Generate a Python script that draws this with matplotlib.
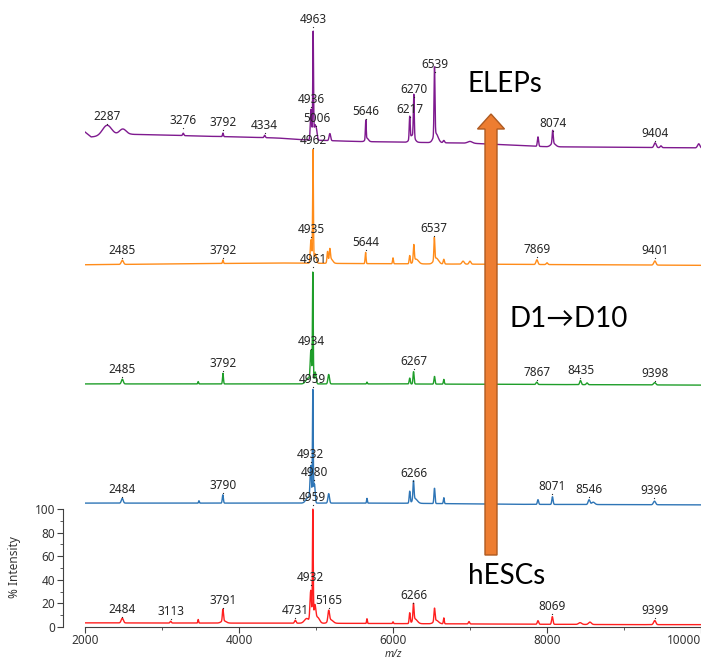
import numpy as np
import matplotlib.pyplot as plt
from matplotlib.patches import FancyArrow
from matplotlib.ticker import FixedLocator, MultipleLocator

# m/z axis of the spectra
mz_start, mz_stop, mz_step = 2000, 10000, 2.0

# vertical offset of each stacked trace (% intensity units)
trace_offsets = [0, 101.5, 203, 304.5, 406]
trace_colors = ['#ff1f1f', '#2e75b6', '#1f9e2a', '#ff8c1a', '#7f1a8f']

# baseline anchors (m/z, level) and peaks (m/z, height, sd)
red_base = [(2000, 3.5), (5000, 3.2), (7000, 2.6), (9000, 2.0), (10000, 2.0)]
red_peaks = [(2484, 4, 14), (3113, 1.5, 8), (3470, 3, 5), (3791, 10, 7), (3800, 2, 30),
             (4731, 2.5, 10), (4880, 4, 30), (4932, 27, 10), (4959, 96, 5), (4985, 14, 12),
             (5020, 5, 25), (5165, 9, 10), (5190, 3, 30), (5662, 4, 5), (6000, 1.5, 5),
             (6217, 9, 7), (6266, 14, 7), (6285, 4, 30), (6539, 11, 7), (6560, 3, 30),
             (6660, 5, 6), (6987, 2, 8), (7883, 3, 9), (8069, 6.5, 9), (8430, 1.5, 20),
             (8558, 2, 18), (9399, 3.5, 14)]
red_labels = [2484, 3113, 3791, 4731, 4932, 5165, 6266, 8069, 9399]
red_label_y = [8.5, 6.8, 16.1, 7.6, 35.6, 16.1, 20.3, 11.0, 7.6]

blue_base = [(2000, 3.5), (6000, 3.5), (7500, 2.5), (10000, 2.0)]
blue_peaks = [(2484, 4, 12), (3480, 2, 5), (3790, 7, 7), (4900, 5, 30), (4932, 29, 9),
              (4959, 96, 5), (4980, 16, 9), (5165, 8, 10), (5662, 4, 5), (6217, 10, 7),
              (6266, 16, 7), (6285, 4, 30), (6539, 13, 7), (6660, 5, 6), (7883, 4, 8),
              (8071, 6.5, 8), (8546, 4, 12), (8600, 2, 20), (9396, 3, 14)]
blue_labels = [2484, 3790, 4932, 4980, 4959, 6266, 8071, 8546, 9396]
blue_label_y = [8.7, 12.1, 38.3, 23.1, 1.9, 22.2, 11.2, 8.7, 7.8]

green_base = [(2000, 3.0), (6000, 3.0), (8000, 2.5), (10000, 2.0)]
green_peaks = [(2485, 4, 12), (3470, 2, 5), (3792, 9, 6), (4900, 5, 30), (4934, 26, 9),
               (4959, 95, 5), (4990, 10, 11), (5165, 8, 10), (5662, 1.5, 5), (6217, 5, 7),
               (6267, 10.5, 7), (6539, 6.5, 7), (6660, 4, 6), (7867, 2, 10), (8435, 3.5, 10),
               (8520, 1.5, 10), (9398, 2, 14)]
green_labels = [2485, 3792, 4934, 4959, 6267, 7867, 8435, 9398]
green_label_y = [8.9, 13.9, 32.6, 0.4, 15.6, 6.3, 8.0, 5.5]

orange_base = [(2000, 2.5), (4500, 4.0), (5500, 3.5), (7000, 3.0), (10000, 2.0)]
orange_peaks = [(2485, 3.5, 14), (3792, 3, 6), (4935, 20, 9), (4961, 97, 5), (4990, 8, 14),
                (5150, 9, 7), (5180, 9, 7), (5190, 4, 25), (5644, 9.5, 6), (6000, 5, 6),
                (6217, 7, 7), (6270, 14, 7), (6300, 4, 30), (6537, 19, 6), (6560, 5, 30),
                (6660, 4, 8), (6910, 2.5, 15), (7000, 2.5, 12), (7869, 4, 12), (8000, 1.5, 10),
                (9401, 3.5, 14)]
orange_labels = [2485, 3792, 4935, 4961, 5644, 6537, 7869, 9401]
orange_label_y = [8.2, 8.2, 26.0, 0.6, 15.0, 26.9, 9.1, 8.2]

purple_base = [(2000, 13.5), (2080, 9.3), (2600, 11.5), (3000, 11.0), (3500, 10.0),
               (4000, 9.3), (4500, 8.4), (4800, 7.0), (5500, 5.5), (6000, 5.0),
               (7000, 4.0), (7500, 2.5), (8000, 1.0), (10000, 0.0)]
purple_peaks = [(2287, 9, 60), (2490, 5, 45), (3276, 2, 8), (3792, 3, 6), (4334, 2, 8),
                (4936, 26, 9), (4963, 92, 5), (4985, 12, 11), (5006, 8, 10), (5180, 6, 10),
                (5646, 16, 5), (5660, 3, 20), (6217, 19, 6), (6250, 6, 30), (6270, 36, 6),
                (6539, 58, 6), (6555, 8, 30), (6660, 2, 10), (7000, 1.5, 30), (7883, 8, 8),
                (8074, 11, 7), (8080, 3, 30), (9404, 4, 14), (9480, 1.5, 10), (9970, 3.5, 15)]
purple_labels = [2287, 3276, 3792, 4334, 4963, 4936, 5006, 4962, 5646, 6217, 6270, 6539,
                 8074, 9404]
purple_label_y = [20.3, 16.9, 15.2, 12.6, 102.5, 34.7, 18.6, -0.1, 24.5, 26.2, 43.2, 64.3,
                  14.3, 5.9]

traces = [
    (red_base, red_peaks, red_labels, red_label_y),
    (blue_base, blue_peaks, blue_labels, blue_label_y),
    (green_base, green_peaks, green_labels, green_label_y),
    (orange_base, orange_peaks, orange_labels, orange_label_y),
    (purple_base, purple_peaks, purple_labels, purple_label_y),
]

mz = np.arange(mz_start, mz_stop + mz_step, mz_step)


def spectrum(base, peaks):
    bx, by = zip(*base)
    y = np.interp(mz, bx, by)
    for c, h, s in peaks:
        y = y + h * np.exp(-0.5 * ((mz - c) / s) ** 2)
    return y


W, H = 701, 659
fig = plt.figure(figsize=(W / 100, H / 100), dpi=100)
ax = fig.add_axes([85 / W, 32 / H, 616 / W, 627 / H])
ax.set_xlim(2000, 10000)
ax.set_ylim(0, 627 / 1.18)

lab_font = dict(family='Noto Sans', fontsize=8.5, color='#262626')
for (base, peaks, labels, label_y), off, col in zip(traces, trace_offsets, trace_colors):
    ax.plot(mz, spectrum(base, peaks) + off, color=col, lw=1.0)
    for m, ly in zip(labels, label_y):
        ax.plot(m, off + ly, 'o', ms=0.9, mew=0, color='#262626')
        ax.annotate(str(m), (m, off + ly), xytext=(0, 3), textcoords='offset points',
                    ha='center', va='baseline', **lab_font)

for s in ['top', 'right']:
    ax.spines[s].set_visible(False)
ax.spines['left'].set_bounds(0, 100)
ax.spines['left'].set_position(('outward', 16))
for s in ['left', 'bottom']:
    ax.spines[s].set_color('#404040')
ax.set_yticks(range(0, 101, 20))
ax.yaxis.set_minor_locator(FixedLocator(range(10, 100, 20)))
ax.set_xticks(range(2000, 10001, 2000))
ax.xaxis.set_minor_locator(MultipleLocator(1000))
ax.tick_params(which='both', colors='#404040', labelcolor='#333333', labelsize=8.5,
               direction='out', pad=1.5)
ax.tick_params(axis='x', pad=1)
ax.tick_params(which='major', length=4)
ax.tick_params(which='minor', length=2.5)
for t in ax.get_yticklabels() + ax.get_xticklabels():
    t.set_family('Noto Sans')
ax.get_xticklabels()[-1].set_ha('right')

ax.set_xlabel('m/z', fontsize=7.5, style='italic', family='Noto Sans', color='#333333')
ax.xaxis.set_label_coords(0.5, -0.0345)
ax.xaxis.label.set_va('top')
ax.set_ylabel('% Intensity', fontsize=8.5, family='Noto Sans', color='#333333')
ax.yaxis.set_label_coords(-0.104, 60 / 627)

# overlay in pixel units for the arrow and annotations
ov = fig.add_axes([0, 0, 1, 1])
ov.set_xlim(0, W)
ov.set_ylim(H, 0)
ov.axis('off')
ov.patch.set_visible(False)
ov.add_patch(FancyArrow(491, 555, 0, -441, width=12, head_width=27, head_length=15,
                        length_includes_head=True, fc='#ED7D31', ec='#AE5A21', lw=1))
big = dict(fontsize=20, family=['Lato', 'DejaVu Sans'], color='black', va='baseline',
           ha='left')
ov.text(468, 92, 'ELEPs', **big)
ov.text(509, 327, 'D1\u2192D10', **big)
ov.text(468, 584, 'hESCs', **big)

fig.savefig('out.png', dpi=100)
